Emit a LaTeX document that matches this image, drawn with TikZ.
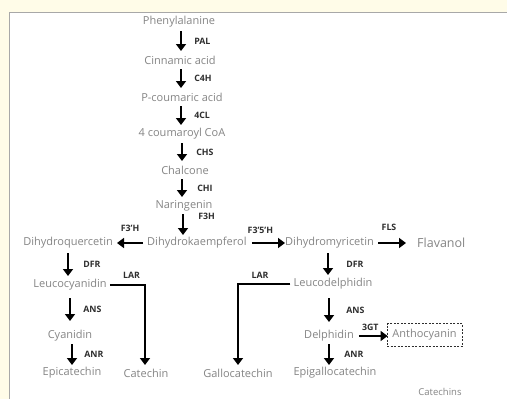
\documentclass[tikz,border=0pt]{standalone}
\usepackage{fontspec}
\setmainfont{Open Sans}
\usetikzlibrary{calc,arrows.meta}
\definecolor{bgy}{HTML}{FFFCE8}
\definecolor{cmp}{HTML}{858585}
\definecolor{enz}{HTML}{2E2E2E}
\definecolor{frm}{HTML}{A8A8A8}
\begin{document}
\begin{tikzpicture}[x=1pt,y=-1pt,
  cmpd/.style={font=\fontsize{11}{13}\selectfont, text=cmp, inner sep=0pt},
  lab/.style={font=\bfseries\fontsize{8.8}{10}\selectfont, text=enz, inner sep=0pt},
  arr/.style={line width=2.6pt, draw=black, -{Triangle[length=7pt,width=10pt]}},
  vlab/.style={lab, midway, anchor=west, xshift=#1},
  vlab/.default=12pt
]
\useasboundingbox (0,0) rectangle (507,399);
\fill[bgy] (0,0) rectangle (507,399);
\begin{scope}
  \clip (0,0) rectangle (507,399);
  \filldraw[fill=white, draw=frm, line width=1.5pt] (9.5,12.5) rectangle (520,420);
\end{scope}

% compounds
\node[cmpd] (phe)  at (179,22)  {Phenylalanine};
\node[cmpd] (cin)  at (180,60)  {Cinnamic acid};
\node[cmpd] (pcou) at (182,97)  {P-coumaric acid};
\node[cmpd] (cca)  at (182,134) {4 coumaroyl CoA};
\node[cmpd] (chal) at (185,170) {Chalcone};
\node[cmpd] (nar)  at (184,206) {Naringenin};
\node[cmpd, anchor=west] (dhk) at (147,243) {Dihydrokaempferol};
\node[cmpd, anchor=east] (dhq) at (113,243) {Dihydroquercetin};
\node[cmpd, anchor=west] (dhm) at (285,243) {Dihydromyricetin};
\node[cmpd, anchor=west, font=\fontsize{12.5}{14}\selectfont] (flav) at (417,243) {Flavanol};
\node[cmpd] (leuc)  at (70,285)  {Leucocyanidin};
\node[cmpd] (leud)  at (333,284) {Leucodelphidin};
\node[cmpd] (cya)   at (70,336)  {Cyanidin};
\node[cmpd] (delph) at (329,336) {Delphidin};
\node[cmpd, draw=enz, dashed, line width=0.9pt, dash pattern=on 2pt off 1.5pt,
      minimum width=75pt, minimum height=23pt] (anth) at (424.5,335) {Anthocyanin};
\node[cmpd] (epi)   at (72,373)  {Epicatechin};
\node[cmpd] (cat)   at (146,373) {Catechin};
\node[cmpd] (gallo) at (238,373) {Gallocatechin};
\node[cmpd] (epig)  at (335,373) {Epigallocatechin};
\node[cmpd, font=\fontsize{9.5}{11}\selectfont] (ctn) at (440,392) {Catechins};

% main column
\draw[arr] ($(pcou |- phe)+(-1,9)$) -- node[vlab] {PAL} ($(pcou |- cin)+(-1,-9)$);
\draw[arr] ($(pcou |- cin)+(-1,9)$) -- node[vlab] {C4H} ($(pcou)+(-1,-9)$);
\draw[arr] ($(pcou)+(-1,9)$) -- node[vlab] {4CL} ($(pcou |- cca)+(-1,-9)$);
\draw[arr] ($(pcou |- cca)+(0,9)$) -- node[vlab=13pt] {CHS} ($(pcou |- chal)+(0,-9)$);
\draw[arr] ($(pcou |- chal)+(0,9)$) -- node[vlab=14pt] {CHI} ($(pcou |- nar)+(0,-9)$);
\draw[arr] ($(pcou |- nar)+(1,8)$) -- node[lab, pos=0, anchor=west, xshift=14pt, yshift=-2pt] {F3H} ($(pcou |- dhk)+(1,-8)$);

% horizontal branch
\draw[arr] ($(dhk.west)+(-4,0)$) -- node[lab, midway, yshift=15pt] {F3'H} ($(dhq.east)+(4,0)$);
\draw[arr] ($(dhk.east)+(5,0)$) -- node[lab, midway, xshift=-8pt, yshift=13pt] {F3'5'H} ($(dhm.west)+(0,0)$);
\draw[arr] ($(dhm.east)+(4,0)$) -- node[lab, midway, xshift=-3pt, yshift=16pt] {FLS} ($(flav.west)+(-11,0)$);

% left column
\draw[arr] ($(leuc |- dhq)+(-2,10)$) -- node[vlab=14pt] {DFR} ($(leuc)+(-2,-9)$);
\draw[arr] ($(leuc)+(0,13)$) -- node[vlab] {ANS} ($(leuc |- cya)+(0,-15)$);
\draw[arr] ($(cya)+(2,8)$) -- node[vlab=11pt] {ANR} ($(cya |- epi)+(2,-8)$);
\draw[arr] ($(leuc.east)+(3,0)$) -| node[lab, pos=0.31, yshift=10pt] {LAR} ($(cat)+(-1,-8)$);

% right column
\draw[arr] ($(leud |- dhm)+(-5,10)$) -- node[vlab=17pt] {DFR} ($(leud)+(-5,-9)$);
\draw[arr] ($(delph |- leud)+(0,14)$) -- node[vlab=16pt] {ANS} ($(delph)+(0,-14)$);
\draw[arr] ($(delph)+(0,8)$) -- node[vlab=14pt] {ANR} ($(delph |- epig)+(0,-8)$);
\draw[arr] ($(leud.west)+(-3,0)$) -| node[lab, pos=0.29, yshift=9pt] {LAR} ($(gallo)+(0,-8)$);
\draw[arr] ($(delph.east)+(5,0)$) -- node[lab, midway, xshift=-3pt, yshift=9pt] {3GT} ($(anth.west |- delph)+(1,0)$);
\end{tikzpicture}
\end{document}
